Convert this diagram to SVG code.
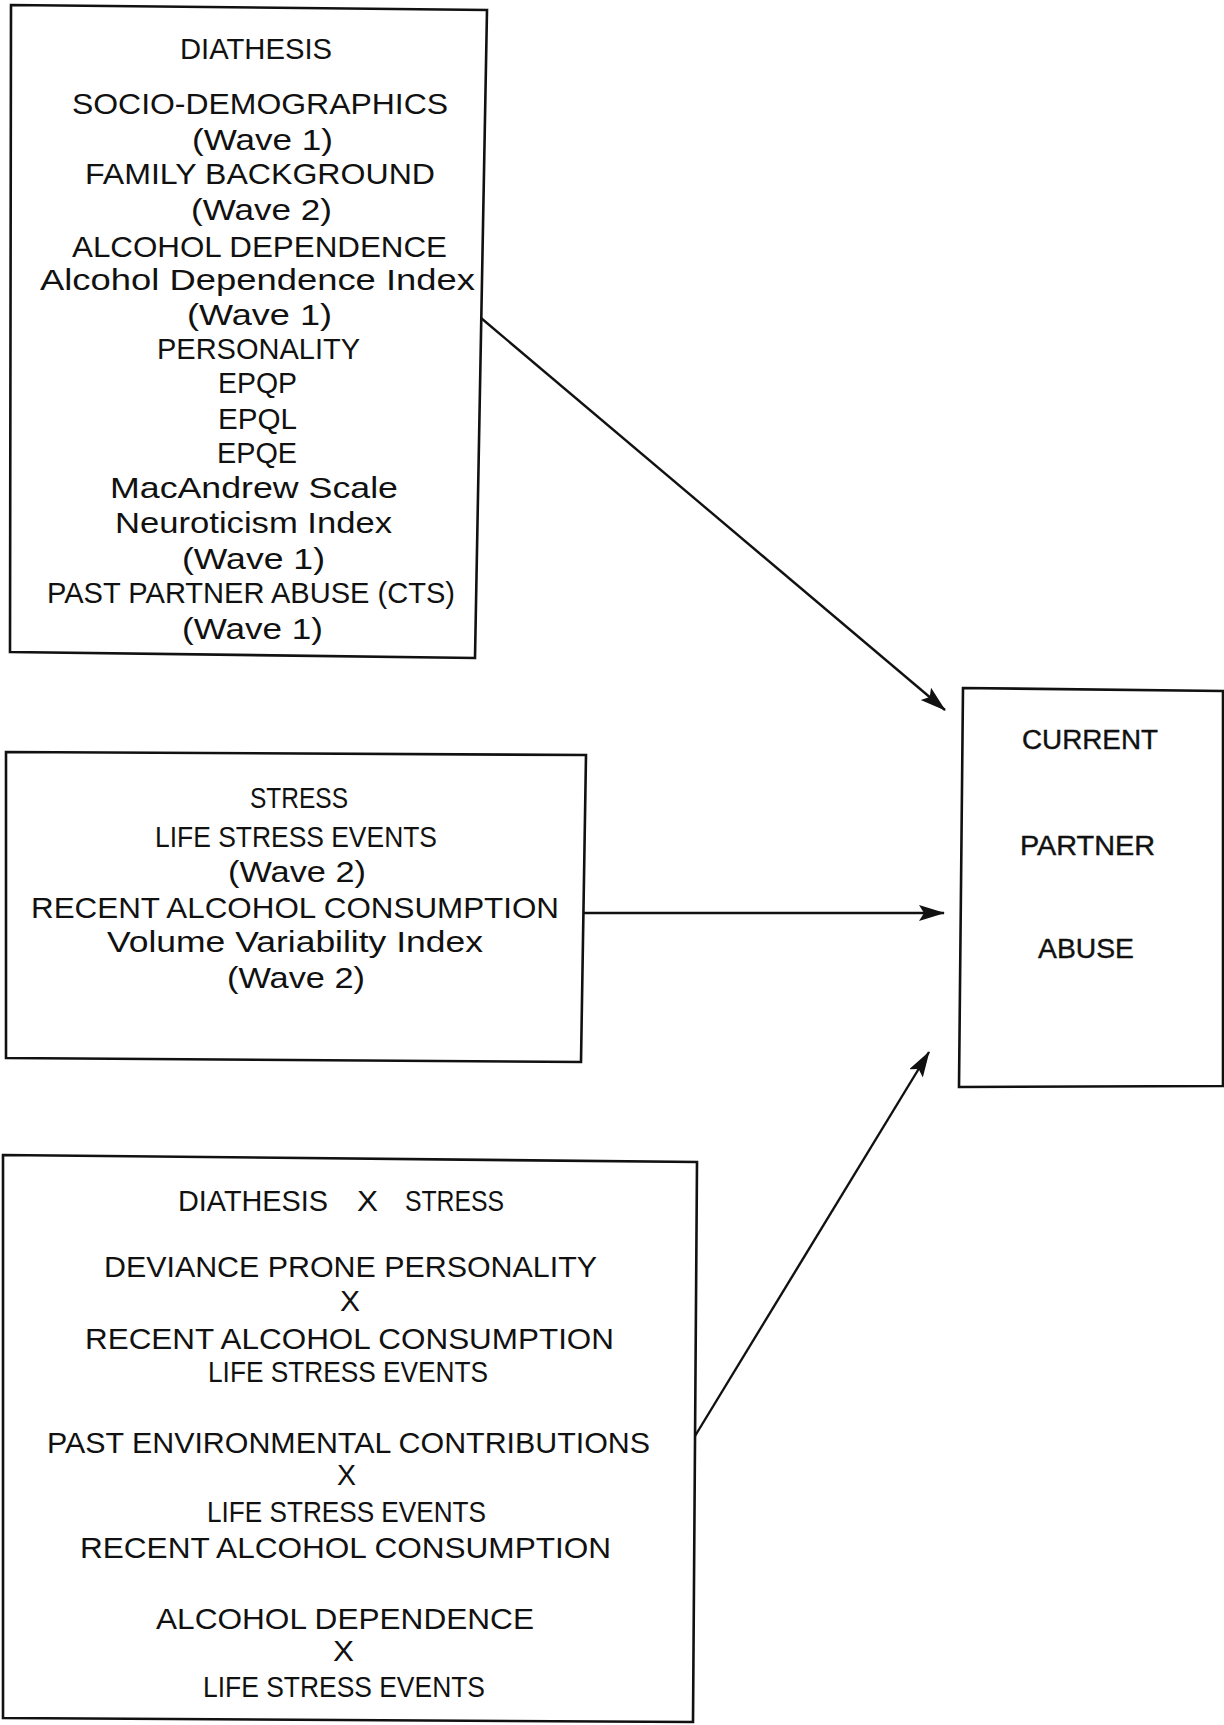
<svg xmlns="http://www.w3.org/2000/svg" width="1224" height="1725" viewBox="0 0 1224 1725">
<style>
.box{fill:none;stroke:#111;stroke-width:2.6;stroke-linejoin:miter}
.t{font-family:"Liberation Sans",Arial,sans-serif;font-size:30px;fill:#111}
.r{font-family:"Liberation Sans",Arial,sans-serif;font-size:27px;fill:#111;stroke:#111;stroke-width:0.4}
.c{fill:none;stroke:#111;stroke-width:2.4}
</style>
<defs>
<marker id="ah" markerUnits="userSpaceOnUse" markerWidth="28" markerHeight="18" refX="25" refY="8" orient="auto">
<path d="M0,0 L26,8 L0,16 L5,8 Z" fill="#111"/>
</marker>
</defs>
<rect width="1224" height="1725" fill="#fff"/>

<g id="diathesis">
<path class="box" d="M11,5 L487,10 L475,658 L10,652 Z"/>
<text class="t" x="180" y="59" textLength="152" lengthAdjust="spacingAndGlyphs">DIATHESIS</text>
<text class="t" x="72" y="114" textLength="376" lengthAdjust="spacingAndGlyphs">SOCIO-DEMOGRAPHICS</text>
<text class="t" x="192" y="150" textLength="141" lengthAdjust="spacingAndGlyphs">(Wave 1)</text>
<text class="t" x="85" y="184" textLength="350" lengthAdjust="spacingAndGlyphs">FAMILY BACKGROUND</text>
<text class="t" x="191" y="220" textLength="141" lengthAdjust="spacingAndGlyphs">(Wave 2)</text>
<text class="t" x="72" y="257" textLength="375" lengthAdjust="spacingAndGlyphs">ALCOHOL DEPENDENCE</text>
<text class="t" x="40" y="290" textLength="435" lengthAdjust="spacingAndGlyphs">Alcohol Dependence Index</text>
<text class="t" x="187" y="325" textLength="145" lengthAdjust="spacingAndGlyphs">(Wave 1)</text>
<text class="t" x="157" y="359" textLength="203" lengthAdjust="spacingAndGlyphs">PERSONALITY</text>
<text class="t" x="218" y="393" textLength="79" lengthAdjust="spacingAndGlyphs">EPQP</text>
<text class="t" x="218" y="429" textLength="79" lengthAdjust="spacingAndGlyphs">EPQL</text>
<text class="t" x="217" y="463" textLength="80" lengthAdjust="spacingAndGlyphs">EPQE</text>
<text class="t" x="110" y="498" textLength="288" lengthAdjust="spacingAndGlyphs">MacAndrew Scale</text>
<text class="t" x="115" y="533" textLength="277" lengthAdjust="spacingAndGlyphs">Neuroticism Index</text>
<text class="t" x="182" y="569" textLength="143" lengthAdjust="spacingAndGlyphs">(Wave 1)</text>
<text class="t" x="47" y="603" textLength="408" lengthAdjust="spacingAndGlyphs">PAST PARTNER ABUSE (CTS)</text>
<text class="t" x="182" y="639" textLength="141" lengthAdjust="spacingAndGlyphs">(Wave 1)</text>
</g>

<g id="stress">
<path class="box" d="M6,752 L586,755 L581,1062 L6,1058 Z"/>
<text class="t" x="250" y="808" textLength="98" lengthAdjust="spacingAndGlyphs">STRESS</text>
<text class="t" x="155" y="847" textLength="282" lengthAdjust="spacingAndGlyphs">LIFE STRESS EVENTS</text>
<text class="t" x="228" y="882" textLength="138" lengthAdjust="spacingAndGlyphs">(Wave 2)</text>
<text class="t" x="31" y="918" textLength="528" lengthAdjust="spacingAndGlyphs">RECENT ALCOHOL CONSUMPTION</text>
<text class="t" x="107" y="952" textLength="376" lengthAdjust="spacingAndGlyphs">Volume Variability Index</text>
<text class="t" x="227" y="988" textLength="138" lengthAdjust="spacingAndGlyphs">(Wave 2)</text>
</g>

<g id="interaction">
<path class="box" d="M3,1155 L697,1162 L693,1722 L3,1718 Z"/>
<text class="t" x="178" y="1211" textLength="150" lengthAdjust="spacingAndGlyphs">DIATHESIS</text>
<text class="t" x="357" y="1211" textLength="21" lengthAdjust="spacingAndGlyphs">X</text>
<text class="t" x="405" y="1211" textLength="99" lengthAdjust="spacingAndGlyphs">STRESS</text>
<text class="t" x="104" y="1277" textLength="493" lengthAdjust="spacingAndGlyphs">DEVIANCE PRONE PERSONALITY</text>
<text class="t" x="340" y="1311" textLength="20" lengthAdjust="spacingAndGlyphs">X</text>
<text class="t" x="85" y="1349" textLength="529" lengthAdjust="spacingAndGlyphs">RECENT ALCOHOL CONSUMPTION</text>
<text class="t" x="208" y="1382" textLength="280" lengthAdjust="spacingAndGlyphs">LIFE STRESS EVENTS</text>
<text class="t" x="47" y="1453" textLength="603" lengthAdjust="spacingAndGlyphs">PAST ENVIRONMENTAL CONTRIBUTIONS</text>
<text class="t" x="337" y="1485" textLength="19" lengthAdjust="spacingAndGlyphs">X</text>
<text class="t" x="207" y="1522" textLength="279" lengthAdjust="spacingAndGlyphs">LIFE STRESS EVENTS</text>
<text class="t" x="80" y="1558" textLength="531" lengthAdjust="spacingAndGlyphs">RECENT ALCOHOL CONSUMPTION</text>
<text class="t" x="156" y="1629" textLength="378" lengthAdjust="spacingAndGlyphs">ALCOHOL DEPENDENCE</text>
<text class="t" x="333" y="1661" textLength="21" lengthAdjust="spacingAndGlyphs">X</text>
<text class="t" x="203" y="1697" textLength="282" lengthAdjust="spacingAndGlyphs">LIFE STRESS EVENTS</text>
</g>

<g id="outcome">
<path class="box" d="M963,688 L1223,691 L1223,1086 L959,1087 Z"/>
<text class="r" x="1022" y="749" textLength="136" lengthAdjust="spacingAndGlyphs">CURRENT</text>
<text class="r" x="1020" y="855" textLength="135" lengthAdjust="spacingAndGlyphs">PARTNER</text>
<text class="r" x="1038" y="958" textLength="96" lengthAdjust="spacingAndGlyphs">ABUSE</text>
</g>

<g id="connectors">
<line class="c" x1="481" y1="318" x2="945" y2="710" marker-end="url(#ah)"/>
<line class="c" x1="584" y1="913" x2="944" y2="913" marker-end="url(#ah)"/>
<line class="c" x1="695" y1="1436" x2="929" y2="1052" marker-end="url(#ah)"/>
</g>
</svg>
